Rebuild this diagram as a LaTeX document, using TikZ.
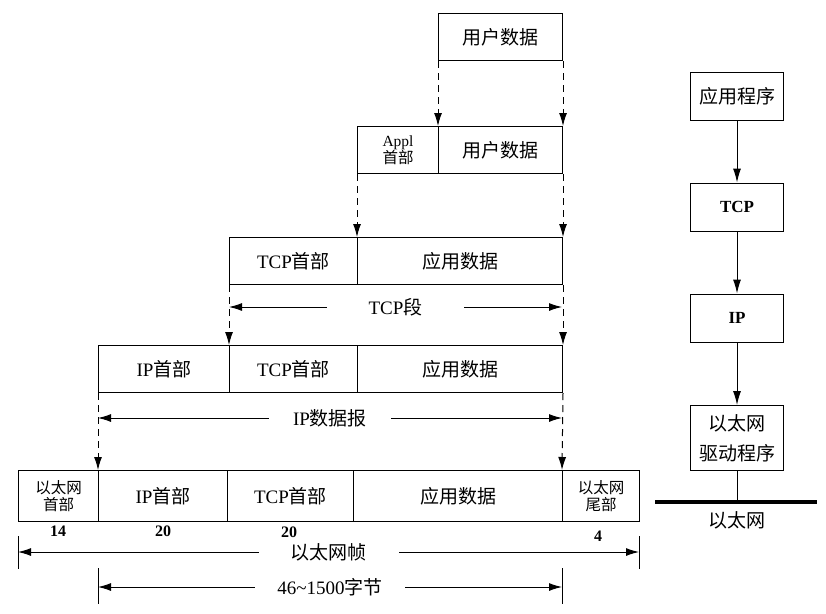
\documentclass[tikz,border=0pt]{standalone}
\usepackage{fontspec}
\setmainfont{Liberation Serif}
\newfontfamily\cjk{Noto Sans CJK SC}
\newcommand{\zh}[1]{{\cjk #1}}
\usepackage{tikz}
\usetikzlibrary{arrows.meta}

\begin{document}
\begin{tikzpicture}[x=1pt,y=-1pt,font=\fontsize{19}{22}\selectfont,
  seg/.style={draw,line width=1pt,anchor=north west,minimum height=47pt,inner sep=0pt},
  small/.style={font=\fontsize{15.5}{17}\selectfont,align=center},
  layer/.style={draw,line width=1pt,minimum width=93pt,minimum height=48pt,inner sep=0pt},
  feed/.style={line width=1pt,dash pattern=on 7pt off 5pt,-{Latex[length=13pt,width=8pt]}},
  span/.style={line width=1pt,{Latex[length=13pt,width=8pt]}-{Latex[length=13pt,width=8pt]}},
  pass/.style={line width=1pt,-{Latex[length=14pt,width=8pt]}},
  num/.style={font=\fontsize{16}{18}\selectfont\bfseries}]
\useasboundingbox (0,0) rectangle (826,613);
\node[seg,minimum width=124pt] (ud1) at (438,13) {\zh{用户数据}};
\node[seg,minimum width=81pt,small] (appl2) at (357,126) {Appl\\\zh{首部}};
\node[seg,minimum width=124pt] (ud2) at (438,126) {\zh{用户数据}};
\node[seg,minimum width=128pt] (tcph3) at (229,237) {TCP\zh{首部}};
\node[seg,minimum width=205pt] (app3) at (357,237) {\zh{应用数据}};
\node[seg,minimum width=131pt] (iph4) at (98,345) {IP\zh{首部}};
\node[seg,minimum width=128pt] (tcph4) at (229,345) {TCP\zh{首部}};
\node[seg,minimum width=205pt] (app4) at (357,345) {\zh{应用数据}};
\node[seg,minimum width=80pt,minimum height=51pt,small] (eh5) at (18,470) {\zh{以太网}\\\zh{首部}};
\node[seg,minimum width=129pt,minimum height=51pt] (iph5) at (98,470) {IP\zh{首部}};
\node[seg,minimum width=126pt,minimum height=51pt] (tcph5) at (227,470) {TCP\zh{首部}};
\node[seg,minimum width=209pt,minimum height=51pt] (app5) at (353,470) {\zh{应用数据}};
\node[seg,minimum width=77pt,minimum height=51pt,small] (et5) at (562,470) {\zh{以太网}\\\zh{尾部}};
\node[num] (n14) at (58,531) {14};
\node[num] (n20a) at (163,531) {20};
\node[num] (n20b) at (289,532) {20};
\node[num] (n4) at (598,536) {4};

\draw[feed] (ud1.south west) -- (ud2.north west);
\draw[feed] (ud1.south east) -- (ud2.north east);
\draw[feed] (appl2.south west) -- (app3.north west);
\draw[feed] (ud2.south east) -- (app3.north east);
\draw[feed] (tcph3.south west) -- (tcph4.north west);
\draw[feed] (app3.south east) -- (app4.north east);
\draw[feed] (iph4.south west) -- (iph5.north west);
\draw[feed] (app4.south east) -- (et5.north west);

\coordinate (segL) at (229,307);
\coordinate (segR) at (562,307);
\draw[span] (segL) -- node[fill=white,inner xsep=42pt] (segname) {TCP\zh{段}} (segR);
\coordinate (dgL) at (98,418);
\coordinate (dgR) at (562,418);
\draw[span] (dgL) -- node[fill=white,inner xsep=24pt] (dgname) {IP\zh{数据报}} (dgR);
\coordinate (frL) at (18,552);
\coordinate (frR) at (639,552);
\draw[line width=1pt] ([yshift=16pt]frL) -- ([yshift=-17pt]frL);
\draw[line width=1pt] ([yshift=16pt]frR) -- ([yshift=-17pt]frR);
\draw[span] (frL) -- node[fill=white,inner xsep=32pt] (frname) {\zh{以太网帧}} (frR);
\coordinate (plL) at (98,587);
\coordinate (plR) at (562,587);
\draw[line width=1pt] ([yshift=19pt]plL) -- ([yshift=-17pt]plL);
\draw[line width=1pt] ([yshift=19pt]plR) -- ([yshift=-17pt]plR);
\draw[span] (plL) -- node[fill=white,inner xsep=22pt] (plname) {46\textasciitilde1500\zh{字节}} (plR);

\node[layer] (app) at (737,96) {\zh{应用程序}};
\node[layer,font=\fontsize{17}{20}\selectfont\bfseries] (tcp) at (737,207) {TCP};
\node[layer,font=\fontsize{17}{20}\selectfont\bfseries] (ip) at (737,318) {IP};
\node[layer,minimum height=65pt,align=center,font=\fontsize{19}{30}\selectfont] (drv) at (737,438) {\zh{以太网}\\\zh{驱动程序}};
\draw[pass] (app) -- (tcp);
\draw[pass] (tcp) -- (ip);
\draw[pass] (ip) -- (drv);
\coordinate (busL) at (655,502);
\coordinate (busR) at (817,502);
\coordinate (bus) at (737,502);
\draw[line width=4pt] (busL) -- (busR);
\draw[line width=1pt] (drv) -- (bus);
\node (busname) at (737,520) {\zh{以太网}};
\end{tikzpicture}
\end{document}
